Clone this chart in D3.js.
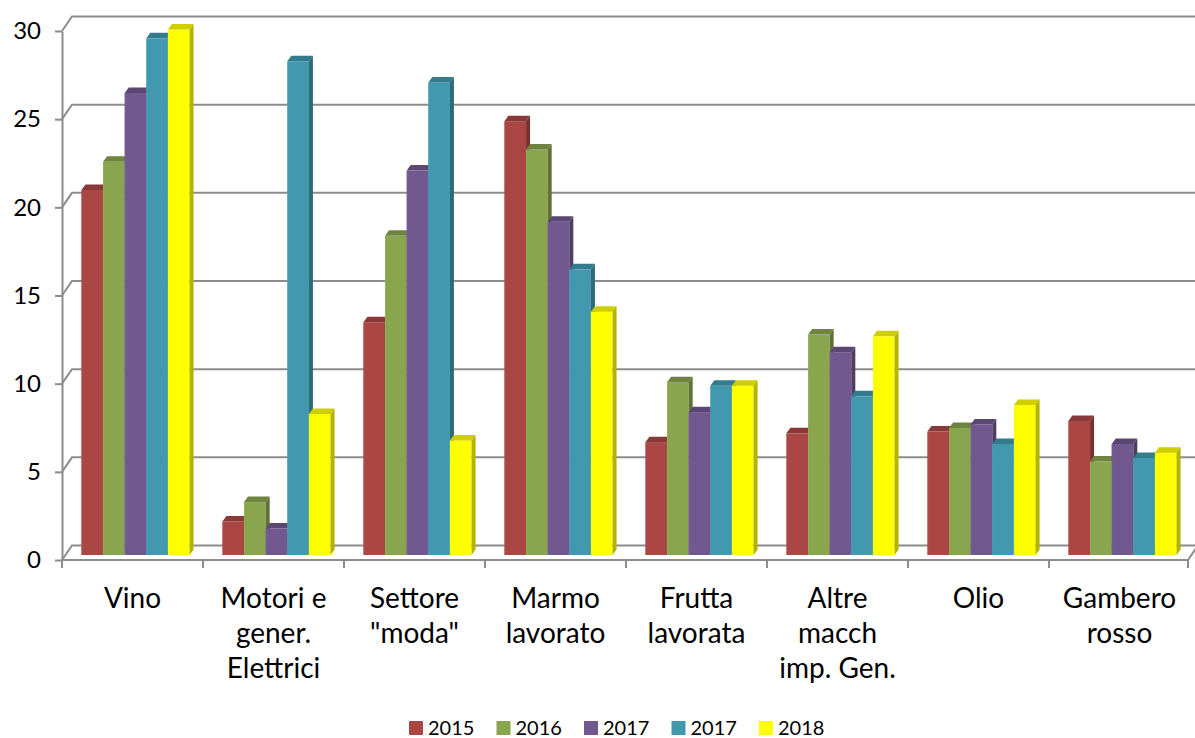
<!DOCTYPE html>
<html>
<head>
<meta charset="utf-8">
<script src="https://cdn.jsdelivr.net/npm/d3@7"></script>
<style>
  body { margin: 0; background: #fff; }
  svg { display: block; }
  text { font-family: Lato, "Open Sans", sans-serif; fill: #000; }
</style>
</head>
<body>
<div id="chart"></div>
<script>
// data
var categories = ["Vino", "Motori e gener. Elettrici", "Settore \"moda\"", "Marmo lavorato",
                  "Frutta lavorata", "Altre macch imp. Gen.", "Olio", "Gambero rosso"];
var categoryLines = [["Vino"], ["Motori e", "gener.", "Elettrici"], ["Settore", "\"moda\""],
                     ["Marmo", "lavorato"], ["Frutta", "lavorata"], ["Altre", "macch", "imp. Gen."],
                     ["Olio"], ["Gambero", "rosso"]];
var seriesNames = ["2015", "2016", "2017", "2017", "2018"];
var v2015  = [20.7, 1.9, 13.2, 24.6, 6.4, 6.9, 7.0, 7.6];
var v2016  = [22.3, 3.0, 18.1, 23.0, 9.8, 12.5, 7.2, 5.3];
var v2017a = [26.2, 1.5, 21.8, 18.9, 8.1, 11.5, 7.4, 6.3];
var v2017b = [29.3, 28.0, 26.8, 16.2, 9.6, 9.0, 6.3, 5.5];
var v2018  = [29.8, 8.0, 6.5, 13.8, 9.6, 12.4, 8.5, 5.8];
var yTicks = [0, 5, 10, 15, 20, 25, 30];

var seriesValues = [v2015, v2016, v2017a, v2017b, v2018];
var colors = ["#AA4643", "#89A54E", "#71588F", "#4198AF", "#FFFF00"];

var width = 1195, height = 738;
var left = 62, right = 1190;
var wallDx = 10, wallDy = -14.5;   // back wall offset (3d look)
var barDx = 3, barDy = -5;         // bar front plane offset
var depthDx = 4, depthDy = -5.5;   // bar depth

var svg = d3.select("#chart").append("svg")
  .attr("width", width)
  .attr("height", height);

var y = d3.scaleLinear().domain([0, 30]).range([560, 31]);
var x = d3.scaleBand().domain(categories).range([left, right]).paddingInner(0).paddingOuter(0);
var xs = d3.scaleBand().domain(d3.range(seriesNames.length))
  .range([0, x.bandwidth()]).paddingInner(0).paddingOuter(0.76);

// gridlines on back wall + diagonal on side wall
var grid = svg.append("g").attr("class", "grid");
yTicks.forEach(function(t) {
  var yy = y(t);
  grid.append("polyline")
    .attr("points", [[left, yy], [left + wallDx, yy + wallDy], [width + 5, yy + wallDy]].join(" "))
    .attr("fill", "none")
    .attr("stroke", "#8c8c8c")
    .attr("stroke-width", 2);
});

// floor front edge + right diagonal
svg.append("polyline")
  .attr("points", [[left, y(0)], [right - 2, y(0)], [right - 2 + wallDx, y(0) + wallDy]].join(" "))
  .attr("fill", "none")
  .attr("stroke", "#8c8c8c")
  .attr("stroke-width", 2);

// category boundary ticks
d3.range(categories.length + 1).forEach(function(i) {
  var xx = Math.min(left + i * x.bandwidth(), right - 2);
  svg.append("line")
    .attr("x1", xx).attr("x2", xx)
    .attr("y1", y(0)).attr("y2", y(0) + 8)
    .attr("stroke", "#8c8c8c")
    .attr("stroke-width", 2);
});

// y axis
var yAxis = d3.axisLeft(y).tickValues(yTicks).tickSize(7).tickSizeOuter(0).tickPadding(14);
var gy = svg.append("g")
  .attr("transform", "translate(" + left + ",0)")
  .call(yAxis);
gy.select(".domain").attr("stroke", "#8c8c8c").attr("stroke-width", 2);
gy.selectAll(".tick line").attr("stroke", "#8c8c8c").attr("stroke-width", 2);
gy.selectAll(".tick text")
  .style("font-family", "Lato, 'Open Sans', sans-serif")
  .style("font-size", "24px")
  .attr("fill", "#000");

// bars, drawn left to right so each covers the previous one's side
var yb = d3.scaleLinear().domain([0, 30]).range([y(0) + barDy, y(30) + barDy]);
var barsG = svg.append("g").attr("class", "bars");
categories.forEach(function(cat, ci) {
  seriesValues.forEach(function(vals, si) {
    var c = d3.color(colors[si]);
    var x0 = x(cat) + xs(si) + barDx;
    var w = xs.bandwidth();
    var yt = yb(vals[ci]);
    var y0 = yb(0);
    var g = barsG.append("g");
    g.append("rect")
      .attr("x", x0).attr("y", yt)
      .attr("width", w).attr("height", y0 - yt)
      .attr("fill", c.formatHex());
    g.append("polygon")
      .attr("points", [[x0, yt], [x0 + w, yt], [x0 + w + depthDx, yt + depthDy], [x0 + depthDx, yt + depthDy]].join(" "))
      .attr("fill", c.darker(0.6).formatHex());
    g.append("polygon")
      .attr("points", [[x0 + w, yt], [x0 + w + depthDx, yt + depthDy], [x0 + w + depthDx, y0 + depthDy], [x0 + w, y0]].join(" "))
      .attr("fill", c.darker(1.0).formatHex());
    g.append("line")
      .attr("x1", x0 + 0.5).attr("x2", x0 + 0.5)
      .attr("y1", yt).attr("y2", y0)
      .attr("stroke", c.brighter(0.3).formatHex())
      .attr("stroke-opacity", 0.6)
      .attr("stroke-width", 1);
  });
});

// category labels
var labels = svg.append("g").attr("class", "xlabels");
categories.forEach(function(cat, ci) {
  var t = labels.append("text")
    .attr("text-anchor", "middle")
    .style("font-size", "28px")
    .attr("x", x(cat) + x.bandwidth() / 2)
    .attr("y", 608);
  categoryLines[ci].forEach(function(line, li) {
    t.append("tspan")
      .attr("x", x(cat) + x.bandwidth() / 2)
      .attr("dy", li === 0 ? 0 : 35)
      .text(line);
  });
});

// legend
var legend = svg.append("g").attr("class", "legend").attr("transform", "translate(409,721)");
seriesNames.forEach(function(name, i) {
  var g = legend.append("g").attr("transform", "translate(" + (i * 87.5) + ",0)");
  g.append("rect").attr("width", 14).attr("height", 14).attr("fill", colors[i]);
  g.append("text").attr("x", 19).attr("y", 14).style("font-size", "20px").text(name);
});
</script>
</body>
</html>
